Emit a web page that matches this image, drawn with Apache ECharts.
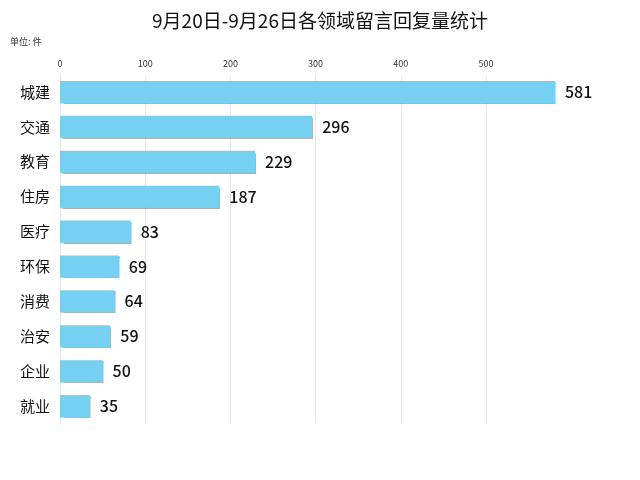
<!DOCTYPE html>
<html><head><meta charset="utf-8">
<script src="https://cdn.jsdelivr.net/npm/echarts@6/dist/echarts.min.js"></script>
<style>html,body{margin:0;padding:0;background:#fff}#c{width:640px;height:480px}</style>
</head><body><div id="c"></div>
<script>
const categories = ['城建','交通','教育','住房','医疗','环保','消费','治安','企业','就业'];
const values = [581,296,229,187,83,69,64,59,50,35];
const chart = echarts.init(document.getElementById('c'));
chart.setOption({
  title: {text:'9月20日-9月26日各领域留言回复量统计', left:'center', top:6,
    textStyle:{fontSize:19, fontWeight:'normal', color:'#111', fontFamily:'Noto Sans CJK SC'}},
  graphic:[{type:'text', left:10, top:37, style:{text:'单位: 件', fontSize:9, fill:'#333', fontFamily:'Noto Sans CJK SC'}}],
  grid:{left:60, right:85, top:74.5, bottom:56.5, containLabel:false},
  xAxis:{type:'value', position:'top', min:0, max:'dataMax', interval:100,
    axisLine:{show:false}, axisTick:{show:false},
    axisLabel:{fontSize:9, color:'#333', margin:6, showMaxLabel:false, fontFamily:'Noto Sans CJK SC'},
    splitLine:{show:true, showMaxLine:false, lineStyle:{color:'#e6e6e6'}}},
  yAxis:{type:'category', data:categories, inverse:true,
    axisLine:{show:false}, axisTick:{show:false},
    axisLabel:{fontSize:15, color:'#111', margin:10, fontFamily:'Noto Sans CJK SC'}},
  series:[{type:'bar', data:values, barWidth:22,
    itemStyle:{color:'#75d0f2', shadowColor:'rgba(0,0,0,0.3)', shadowOffsetX:1, shadowOffsetY:1, shadowBlur:1},
    label:{show:true, position:'right', distance:10, fontSize:16, color:'#111', fontWeight:500, fontFamily:'Noto Sans CJK SC', verticalAlign:'middle'}}]
});
</script></body></html>
